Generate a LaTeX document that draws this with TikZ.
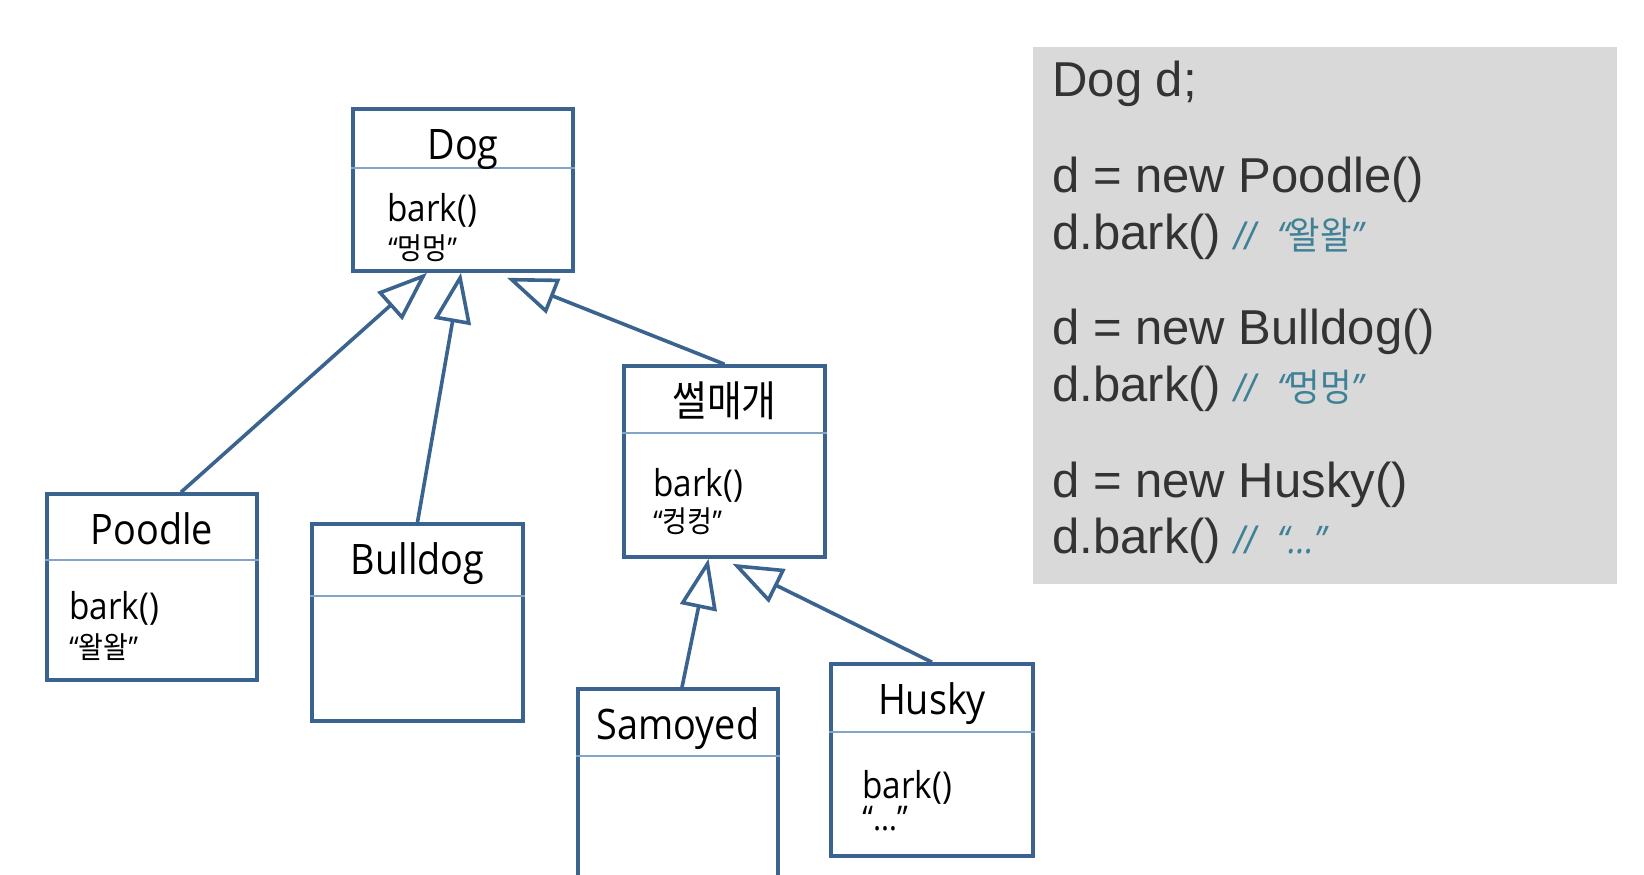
\documentclass[tikz,border=0pt]{standalone}
\usepackage{fontspec}
\newfontfamily\boxfont[FakeStretch=0.9]{Open Sans}
\newfontfamily\krfont[FakeStretch=0.9]{Noto Sans CJK KR}
\newfontfamily\codefont{Liberation Sans}
\usetikzlibrary{arrows.meta}

\definecolor{umlblue}{RGB}{59,99,143}
\definecolor{umlline}{RGB}{130,164,198}
\definecolor{codegray}{RGB}{217,217,217}
\definecolor{codetext}{RGB}{51,51,51}
\definecolor{notecol}{RGB}{62,128,150}

\tikzset{
  classbox/.style={draw=umlblue, line width=1.8pt, inner sep=0pt},
  divider/.style={draw=umlline, line width=0.9pt},
  title/.style={anchor=base, inner sep=0pt, font=\boxfont\fontsize{21}{24}\selectfont},
  method/.style={anchor=base west, inner sep=0pt, font=\boxfont\fontsize{18.5}{22}\selectfont},
  sound/.style={anchor=west, inner sep=0pt, font=\krfont\fontsize{15}{17}\selectfont},
  inherit/.style={draw=umlblue, line width=1.8pt, -{Triangle[open, length=25pt, width=18.5pt]}},
  codeline/.style={anchor=base west, inner sep=0pt, text=codetext, font=\codefont\fontsize{24.5}{28}\selectfont},
}

\newcommand{\note}[1]{{\color{notecol}\fontsize{19}{22}\selectfont\itshape //\ \ {\boxfont “}{\krfont #1}{\boxfont ”}}}

\begin{document}
\begin{tikzpicture}[x=0.5pt, y=-0.5pt]
  \useasboundingbox (0,0) rectangle (1644,874);

  % class boxes
  \node[classbox, minimum width=110pt, minimum height=81pt] (Dog) at (463,190) {};
  \node[classbox, minimum width=105pt, minimum height=93pt] (Poodle) at (152,587) {};
  \node[classbox, minimum width=105.5pt, minimum height=98.5pt] (Bulldog) at (417.5,622.5) {};
  \node[classbox, minimum width=100.5pt, minimum height=95.5pt] (Sled) at (724.5,461.5) {};
  \node[classbox, minimum width=100pt, minimum height=95.5pt] (Samoyed) at (678,784.5) {};
  \node[classbox, minimum width=101pt, minimum height=96pt] (Husky) at (932,760) {};

  \draw[divider] ([yshift=-30.5pt]Dog.north west) -- ([yshift=-30.5pt]Dog.north east);
  \draw[divider] ([yshift=-34pt]Poodle.north west) -- ([yshift=-34pt]Poodle.north east);
  \draw[divider] ([yshift=-37pt]Bulldog.north west) -- ([yshift=-37pt]Bulldog.north east);
  \draw[divider] ([yshift=-34.5pt]Sled.north west) -- ([yshift=-34.5pt]Sled.north east);
  \draw[divider] ([yshift=-34.5pt]Samoyed.north west) -- ([yshift=-34.5pt]Samoyed.north east);
  \draw[divider] ([yshift=-35pt]Husky.north west) -- ([yshift=-35pt]Husky.north east);

  % titles
  \node[title] (DogT) at (463,159) {Dog};
  \node[title] (PoodleT) at (152,544) {Poodle};
  \node[title] (BulldogT) at (417.5,574) {Bulldog};
  \node[title, font=\krfont\fontsize{21}{24}\selectfont] (SledT) at (724.5,416) {썰매개};
  \node[title] (SamoyedT) at (678,739) {Samoyed};
  \node[title] (HuskyT) at (932,714) {Husky};

  % methods
  \node[method] (DogM) at (387,221) {bark()};
  \node[sound] (DogS) at (388,248) {{\boxfont “}멍멍{\boxfont ”}};
  \node[method] (PoodleM) at (69,619) {bark()};
  \node[sound] (PoodleS) at (69,647) {{\boxfont “}왈왈{\boxfont ”}};
  \node[method] (SledM) at (653,496) {bark()};
  \node[sound] (SledS) at (653,521) {{\boxfont “}컹컹{\boxfont ”}};
  \node[method] (HuskyM) at (862,798) {bark()};
  \node[method, font=\boxfont\fontsize{17}{20}\selectfont] (HuskyS) at (862,830) {“…”};

  % inheritance
  \draw[inherit] ([xshift=14.5pt]Poodle.north) -- ([xshift=-18pt]Dog.south);
  \draw[inherit] (Bulldog.north) -- ([xshift=-1pt]Dog.south);
  \draw[inherit] (Sled.north) -- ([xshift=22pt, yshift=-2.5pt]Dog.south);
  \draw[inherit] ([xshift=2pt]Samoyed.north) -- ([xshift=-8pt]Sled.south);
  \draw[inherit] (Husky.north) -- ([xshift=4pt, yshift=-2.5pt]Sled.south);

  % code panel
  \node[fill=codegray, minimum width=292pt, minimum height=268.5pt, inner sep=0pt] (Code) at (1325,315.5) {};
  \node[codeline] (L1) at (1052,96) {Dog d;};
  \node[codeline] (L2) at (1052,192) {d = new Poodle()};
  \node[codeline] (L3) at (1052,249) {d.bark() \note{왈왈}};
  \node[codeline] (L4) at (1052,344) {d = new Bulldog()};
  \node[codeline] (L5) at (1052,401) {d.bark() \note{멍멍}};
  \node[codeline] (L6) at (1052,497) {d = new Husky()};
  \node[codeline] (L7) at (1052,553) {d.bark() {\color{notecol}\fontsize{19}{22}\selectfont\itshape //\ \ {\boxfont “…”}}};
\end{tikzpicture}
\end{document}
